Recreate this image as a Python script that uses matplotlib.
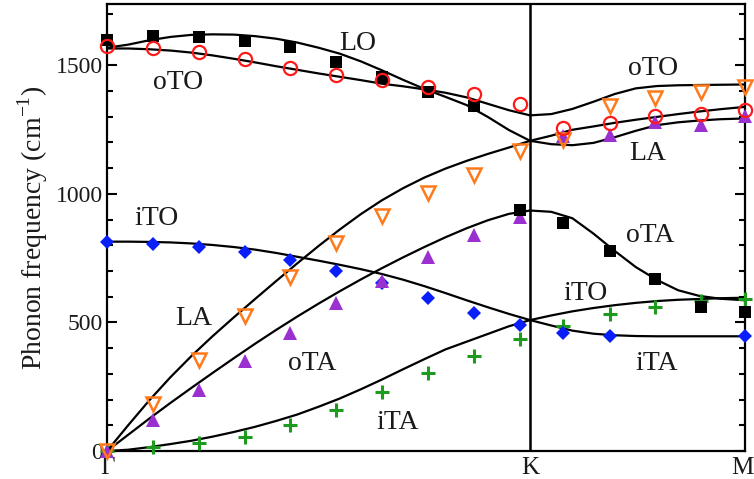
import matplotlib
matplotlib.use('Agg')
import matplotlib.pyplot as plt
import matplotlib.transforms as mtransforms
import numpy as np

plt.rcParams['font.family'] = ['Liberation Serif', 'DejaVu Serif']
plt.rcParams['mathtext.fontset'] = 'custom'
plt.rcParams['mathtext.rm'] = 'Liberation Serif'

# ---------------- data ----------------
# high-symmetry points (path coordinate)
sym_labels = ['Γ', 'K', 'M']
sym_pos = [0.0, 1.0, 1.508]

# curve sample positions
gk_x = [0.0, 0.05, 0.1, 0.15, 0.2, 0.25, 0.3, 0.35, 0.4, 0.45, 0.5,
        0.55, 0.6, 0.65, 0.7, 0.75, 0.8, 0.85, 0.9, 0.95, 1.0]
km_x = [1.0, 1.05, 1.1, 1.15, 1.2, 1.25, 1.3, 1.35, 1.4, 1.45, 1.508]

# Gamma-K calculated branches (cm^-1)
lo_gk  = [1568, 1580, 1597, 1610, 1618, 1620, 1619, 1613, 1603, 1588, 1568,
          1545, 1515, 1480, 1443, 1408, 1377, 1345, 1299, 1248, 1206]
oto_gk = [1565, 1565, 1562, 1557, 1549, 1538, 1525, 1511, 1496, 1482, 1468,
          1455, 1442, 1428, 1418, 1406, 1393, 1375, 1350, 1325, 1305]
la_gk  = [0, 100, 197, 287, 370, 447, 520, 591, 661, 730, 797,
          861, 921, 975, 1022, 1063, 1098, 1128, 1155, 1180, 1206]
ota_gk = [0, 63, 126, 187, 246, 304, 361, 417, 471, 523, 573,
          621, 667, 711, 753, 793, 831, 866, 897, 922, 935]
ito_gk = [814, 814, 813, 811, 807, 801, 793, 783, 770, 755, 740,
          724, 707, 688, 666, 641, 614, 586, 559, 533, 509]
ita_gk = [0, 5, 15, 27, 40, 56, 74, 94, 117, 142, 172,
          204, 240, 278, 318, 357, 395, 425, 455, 485, 509]

# K-M calculated branches (cm^-1)
up_km  = [1206, 1226, 1249, 1262, 1276, 1288, 1299, 1310, 1320, 1329, 1338]
low_km = [1206, 1193, 1189, 1198, 1220, 1245, 1267, 1278, 1285, 1290, 1293]
oto_km = [1305, 1310, 1330, 1358, 1388, 1410, 1419, 1422, 1423, 1424, 1425]
ota_km = [935, 930, 905, 845, 778, 715, 665, 625, 603, 592, 586]
ito_km = [509, 527, 543, 556, 567, 576, 583, 588, 591, 594, 596]
ita_km = [509, 488, 468, 456, 450, 447, 446, 446, 446, 446, 446]

# reference (symbol) data positions
q_pts = [0.0, 0.108, 0.217, 0.325, 0.433, 0.542, 0.650, 0.759, 0.867, 0.976,
         1.078, 1.189, 1.296, 1.404, 1.508]
sq_black   = [1599, 1613, 1609, 1594, 1570, 1512, 1453, 1394, 1340, 938,
              887, 779, 668, 559, 539]
circ_red   = [1574, 1566, 1551, 1523, 1491, 1462, 1441, 1417, 1388, 1351,
              1257, 1277, 1302, 1310, 1324]
tri_orange = [0, 184, 355, 523, 676, 809, 915, 1004, 1072, 1165,
              1208, 1342, 1373, 1394, 1417]
tri_purple = [0, 121, 236, 349, 457, 577, 661, 753, 840, 910,
              1223, 1228, 1280, 1267, 1304]
dia_blue   = [811, 805, 792, 772, 743, 700, 652, 595, 538, 488,
              458, 447, np.nan, np.nan, 447]
plus_green = [0, 17, 30, 56, 101, 159, 228, 302, 370, 435,
              487, 532, 561, 583, 591]

# branch labels
lab_text = ['LO', 'oTO', 'oTO', 'LA', 'iTO', 'LA', 'oTA', 'iTA', 'oTA', 'iTO', 'iTA']
lab_x    = [0.593, 0.168, 1.291, 1.279, 0.118, 0.206, 0.485, 0.686, 1.284, 1.13, 1.30]
lab_y    = [1586, 1434, 1488, 1158, 905, 517, 342, 109, 839, 614, 342]

# ---------------- plot ----------------
fig = plt.figure(figsize=(7.54, 4.79), dpi=100)
ax = fig.add_axes([107/754, 28/479, (745-107)/754, (451-4)/479])

lw = 1.6
for ys in [lo_gk, oto_gk, la_gk, ota_gk, ito_gk, ita_gk]:
    ax.plot(gk_x, ys, color='black', lw=lw, zorder=2, solid_joinstyle='round')
for ys in [up_km, low_km, oto_km, ota_km, ito_km, ita_km]:
    ax.plot(km_x, ys, color='black', lw=lw, zorder=2, solid_joinstyle='round')

ax.axvline(sym_pos[1], color='black', lw=1.8, zorder=1)

kw = dict(linestyle='none', clip_on=False, zorder=3)
ax.plot(q_pts, plus_green, marker='+', color='#1e9a1e', ms=10, mew=2.2, **kw)
ax.plot(q_pts, dia_blue, marker='D', color='#0a1efa', ms=7.5, mew=0, **kw)
ax.plot(q_pts, tri_purple, marker='^', color='#9b30d0', ms=9.5, mew=0, **kw)
ax.plot(q_pts, tri_orange, marker='v', mfc='none', mec='#ff7a1a', ms=9.5, mew=1.8, **kw)
ax.plot(q_pts, sq_black, marker='s', color='black', ms=9, mew=0, **kw)
ax.plot(q_pts, circ_red, marker='o', mfc='none', mec='#ff1a1a', ms=9.5, mew=1.6, **kw)

for t, x, y in zip(lab_text, lab_x, lab_y):
    ax.text(x, y, t, fontsize=20, ha='center', va='center', color='#1a1a1a')

ax.set_xlim(sym_pos[0], sym_pos[-1])
ax.set_ylim(0, 1738)
ax.set_xticks(sym_pos)
ax.set_xticklabels(sym_labels, fontsize=18, color='#1a1a1a')
ax.tick_params(axis='x', length=0, pad=4)
# keep the M label inside the figure edge
xt = ax.get_xticklabels()
xt[-1].set_transform(xt[-1].get_transform() +
                     mtransforms.ScaledTranslation(-3/100, 0, fig.dpi_scale_trans))
ax.set_yticks([0, 500, 1000, 1500])
ax.set_yticks(np.arange(0, 1701, 100), minor=True)
ax.tick_params(axis='y', which='major', direction='in', length=7.5, width=1.5,
               right=True, labelsize=17, pad=3, labelcolor='#1a1a1a')
ax.tick_params(axis='y', which='minor', direction='in', length=4.5, width=1.5,
               right=True)
for s in ax.spines.values():
    s.set_linewidth(1.6)
ax.set_ylabel('Phonon frequency (cm$^{\\mathregular{-1}}$)', fontsize=20,
              labelpad=4, color='#1a1a1a')

fig.savefig('out.png', dpi=100)
